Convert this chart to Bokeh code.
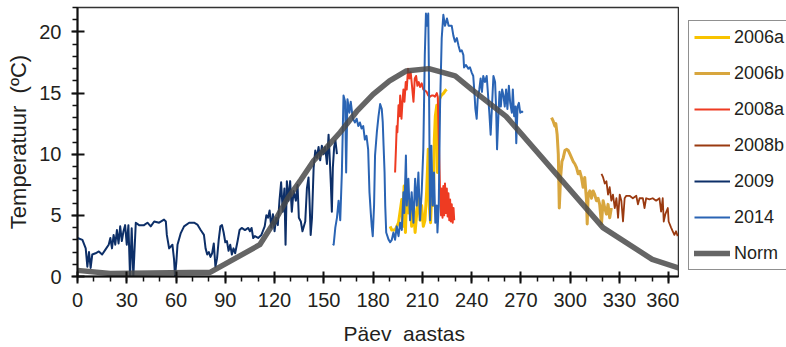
from bokeh.plotting import figure
from bokeh.models import SingleIntervalTicker, Range1d
from bokeh.layouts import row
from bokeh.embed import file_html
from bokeh.resources import INLINE

FONT = "Liberation Sans"

# ---- data (day of year, temperature in degrees C) ----
D2006A = [190.4, 191.4, 193.4, 195.5, 197.5, 198.1, 198.9, 199.7, 200.5, 201.5,
          202.5, 203.5, 204.6, 205.6, 206.6, 207.6, 208.6, 209.6, 210.6, 211.6,
          212.6, 213.6, 214.2, 215, 215.8, 216.7, 217.3, 217.9, 218.8, 219.2,
          219.6, 220.4, 221.5, 223, 224, 224.8]
T2006A = [4.1, 3.8, 3.8, 4.4, 6.3, 4.1, 7.4, 3.6, 6.9, 5.2,
          6.3, 4.1, 5.8, 3.6, 5.2, 6.9, 4.6, 5.8, 4.1, 4.6,
          6.9, 10.4, 5.8, 4.4, 6.9, 5.8, 11.2, 13.1, 14.0, 8.5,
          11.2, 14.5, 14.8, 15.0, 15.2, 15.3]

D2006B = [288.7, 289.7, 290.7, 291.3, 292.1, 292.8, 293.4, 294.2, 295, 295.8,
          296.8, 297.8, 298.9, 299.9, 300.9, 301.9, 302.9, 303.9, 304.9, 305.9,
          306.9, 307.9, 308.9, 310, 310.4, 311, 312, 313, 314, 315,
          316, 317, 318, 319.1, 320.1, 321.1, 322.1, 323.1, 324.1, 325.1]
T2006B = [13.0, 12.7, 12.3, 12.5, 11.6, 10.0, 5.6, 8.1, 9.4, 9.7,
          10.3, 10.4, 10.3, 10.0, 9.7, 9.4, 9.2, 8.9, 8.4, 8.6,
          8.1, 7.3, 8.1, 6.2, 4.3, 6.7, 7.0, 6.4, 7.0, 6.7,
          6.2, 6.4, 5.9, 4.3, 6.2, 5.6, 5.1, 5.9, 4.8, 5.6]

D2008A = [193.4, 194, 194.4, 194.8, 195.5, 196.1, 196.5, 197.3, 197.9, 198.5,
          199.1, 199.9, 200.5, 201.3, 202.1, 202.9, 203.7, 204.6, 205.4, 206.2,
          207, 207.8, 208.6, 209.6, 210.6, 211.6, 212.6, 213.6, 214.7, 215.7,
          216.7, 217.7, 218.8, 219.4,
          220.8, 221.4, 221.8, 222.3, 222.8, 223.3, 223.8, 224.3, 224.9, 225.4,
          225.9, 226.4, 226.9, 227.4, 227.9, 228.5, 229, 229.4]
T2008A = [8.5, 10.7, 12.3, 11.8, 14.0, 13.1, 14.8, 12.9, 14.3, 15.3,
          14.3, 15.9, 15.3, 17.0, 16.2, 16.7, 15.6, 14.3, 16.2, 16.4,
          15.6, 15.9, 15.5, 15.8, 15.3, 15.2, 15.1, 14.8, 14.7, 14.8,
          14.8, 14.7, 15.0, 14.7,
          6.9, 5.0, 7.2, 4.8, 7.4, 5.0, 7.6, 5.2, 7.2, 4.9,
          6.8, 4.6, 6.3, 4.5, 5.9, 4.4, 5.6, 4.6]

D2008B = [319.1, 320.1, 321.1, 322.1, 323.1, 324.1, 325.1, 326.1, 327.2, 328.2,
          329.2, 330.2, 331.2, 332.2, 333.2, 334.2, 336.2, 338.2, 340.3, 341.3,
          342.3, 344.3, 345.3, 346.3, 348.3, 350.3, 352.4, 354.4, 355.4, 356.4,
          357, 358, 359.5, 360, 361.5, 362.5, 363.5, 364.5, 365.5]
T2008B = [8.4, 8.1, 7.6, 7.8, 6.7, 7.3, 6.2, 6.7, 5.6, 6.4,
          4.8, 6.7, 6.2, 4.5, 6.4, 6.6, 6.6, 6.4, 6.6, 5.9,
          6.4, 6.4, 5.6, 6.4, 6.3, 6.4, 6.2, 6.4, 5.3, 6.4,
          4.5, 5.1, 5.6, 4.5, 4.0, 3.7, 3.4, 3.7, 3.3]

D2009 = [0, 3, 5, 6, 7, 8, 9, 11, 13, 15,
         17, 19, 20, 21, 22, 23, 24, 25, 26, 27,
         28, 29, 30, 31, 32, 33, 34, 35.5, 37.5, 40.5,
         42.6, 44.6, 46.7, 49.7, 52.7, 53.8, 54.4, 55.8, 57.8, 58.8,
         59.4, 60.2, 60.9, 62.9, 64.9, 68, 71, 73, 75, 77,
         78, 79, 80, 81, 82, 83, 84, 85, 86, 87,
         88, 89, 90, 91, 92, 93, 94, 95, 96, 97.5,
         98.7, 100, 102, 104, 105, 106, 107, 108, 110, 112,
         114, 115, 116, 117, 118, 119, 120, 121, 122, 123,
         124, 125, 126, 126.7, 127.5, 128.5, 129.5, 130.5, 131.6, 133,
         134, 134.8, 136, 137, 138.7, 139.7, 140.7, 141.3, 142, 142.8,
         143.8, 144.8, 145.8, 146.8, 147.8, 148.8, 149.8, 150.8, 151.9, 152.9,
         153.5, 154.3, 154.9, 155.5, 156.3, 157.1, 158]
T2009 = [3.15, 3.0, 2.3, 0.8, 2.0, 0.7, 1.8, 1.9, 2.05, 1.8,
         2.2, 2.6, 3.15, 2.3, 3.4, 2.6, 3.8, 2.7, 4.1, 2.9,
         3.7, 4.2, 2.6, 4.2, 0.0, 3.95, 0.0, 4.4, 4.2, 4.2,
         4.4, 4.1, 4.5, 4.4, 4.65, 4.5, 3.4, 2.3, 2.6, 1.4,
         0.0, 1.2, 2.6, 3.55, 4.1, 4.4, 4.4, 4.25, 3.8, 3.4,
         2.3, 1.8, 2.0, 1.6, 1.9, 2.7, 0.8, 1.5, 3.0, 4.1,
         4.2, 3.6, 2.8, 2.9, 2.1, 2.6, 1.8, 2.3, 1.9, 2.9,
         3.8, 3.97, 3.8, 3.97, 3.7, 3.97, 3.15, 3.3, 3.15, 3.4,
         4.1, 5.0, 4.8, 5.4, 4.0, 5.1, 3.7, 4.8, 4.2, 6.2,
         7.7, 5.3, 7.2, 2.6, 7.8, 6.2, 7.8, 5.3, 7.0, 6.2,
         7.5, 4.8, 4.5, 3.7, 4.5, 7.2, 8.1, 6.2, 3.4, 4.8,
         8.9, 10.3, 9.7, 10.6, 9.5, 10.7, 10.0, 10.6, 9.2, 11.6,
         10.0, 7.5, 5.3, 8.9, 10.6, 11.1, 10.0]

D2014 = [155.5, 156, 157, 158, 159, 160, 161, 162, 163, 163.6,
         164.4, 165.6, 166.4, 167.7, 169, 170, 171, 172, 173, 174,
         175, 176, 177, 177.8, 178.6, 179.2, 179.8, 180.6, 181.2, 182.3,
         183.3, 184.3, 185.3, 185.9, 186.4, 187, 187.4, 188, 189.5, 190.4,
         191.4, 192.4, 193.4, 194.4, 195.5, 196.5, 197.5, 198.5, 199, 200,
         200.5, 201.5, 202.5, 203.5, 204.6, 205.6, 206.6, 207.6, 208.6, 209.6,
         210.6, 211.5, 212.2, 213, 213.6, 214, 214.7, 215.5, 216.3, 217.1,
         217.9, 218.8, 219.2, 220, 220.8, 221.8, 222.8, 223.8, 225, 226,
         227.9, 228.9, 229.9, 231, 232, 233, 234, 235, 235.4, 236.6,
         238, 239, 240, 241, 241.7, 242.3, 243.1, 243.7, 244.7, 245.5,
         246.3, 247.1, 248.1, 249.2, 250.2, 250.8, 251.6, 252.4, 253.3, 254.3,
         254.9, 255.5, 256.3, 257, 257.8, 258.6, 259.4, 260.2, 261, 261.8,
         262.7, 263.5, 264.5, 265.1, 265.9, 266.7, 267.2, 268, 268.8, 269.6,
         270.6, 271.2]
T2014 = [2.7, 2.6, 4.0, 4.8, 6.2, 4.6, 8.5, 14.8, 14.3, 8.5,
         14.5, 13.4, 14.3, 12.9, 12.6, 12.9, 12.3, 12.6, 12.1, 12.3,
         11.2, 11.5, 10.4, 6.9, 5.2, 4.1, 3.3, 5.8, 9.9, 11.8,
         13.1, 14.1, 13.7, 12.6, 10.7, 8.5, 5.8, 3.6, 3.0, 2.8,
         3.0, 3.6, 3.0, 4.1, 3.3, 4.4, 3.8, 6.9, 5.2, 9.9,
         5.8, 8.0, 4.6, 6.9, 4.4, 8.0, 5.8, 8.5, 4.6, 6.9,
         10.4, 18.1, 21.5, 20.5, 21.5, 16.7, 4.6, 10.7, 5.8, 8.5,
         4.4, 5.8, 3.6, 5.8, 14.0, 19.5, 21.4, 20.5, 21.1, 20.5,
         20.5, 19.7, 19.2, 19.5, 18.9, 18.4, 18.5, 18.1, 17.1, 17.3,
         17.0, 17.1, 16.7, 16.4, 15.1, 13.7, 12.9, 14.5, 15.3, 16.2,
         15.1, 16.4, 15.9, 16.4, 14.5, 13.4, 11.6, 13.9, 16.4, 15.9,
         13.9, 10.4, 13.1, 15.1, 13.9, 15.3, 14.8, 13.9, 15.3, 13.7,
         15.6, 14.2, 13.4, 15.3, 13.1, 13.9, 10.9, 13.9, 14.2, 13.4,
         13.5, 13.4]

DNORM = [0, 20, 81, 111, 120, 128, 136, 144, 152, 160,
         170, 180, 190, 200, 214, 230, 240, 261, 320, 350, 366]
TNORM = [0.5, 0.25, 0.35, 2.6, 4.5, 6.4, 7.9, 9.5, 10.6, 11.8,
         13.5, 14.9, 16.0, 16.8, 17.0, 16.4, 15.3, 13.1, 4.0, 1.4, 0.7]

X_TICK_STEP = 30
Y_TICK_STEP = 5

SERIES = [
    ("2006a", D2006A, T2006A, "#F8C300", 3.0),
    ("2006b", D2006B, T2006B, "#D8A63E", 3.0),
    ("2008a", D2008A, T2008A, "#EE3B22", 2.0),
    ("2008b", D2008B, T2008B, "#9A3A10", 1.8),
    ("2009", D2009, T2009, "#0D2F68", 2.0),
    ("2014", D2014, T2014, "#2A64B4", 2.0),
]
NORM_STYLE = dict(line_color="#4a4a4a", line_alpha=0.85, line_width=5.5,
                  line_join="round", line_cap="round")

# ---------------- main chart ----------------
p = figure(width=679, height=347, output_backend="svg", toolbar_location=None,
           x_range=Range1d(0, 366), y_range=Range1d(0, 22),
           min_border_left=77, min_border_right=1, min_border_top=7,
           min_border_bottom=0, background_fill_color="white",
           border_fill_color="white")

for name, xs, ys, col, w in SERIES:
    p.line(xs, ys, line_color=col, line_width=w, line_join="round")
p.line(DNORM, TNORM, **NORM_STYLE)

p.grid.visible = False
p.outline_line_color = "#333333"
p.outline_line_width = 1.5

for ax in (p.xaxis[0], p.yaxis[0]):
    ax.axis_line_color = "#111111"
    ax.axis_line_width = 2
    ax.major_tick_line_color = "#111111"
    ax.major_tick_line_width = 2
    ax.minor_tick_line_color = "#111111"
    ax.minor_tick_line_width = 1.5
    ax.minor_tick_in = 0
    ax.minor_tick_out = 5
    ax.major_label_text_font = FONT
    ax.major_label_text_font_size = "20px"
    ax.major_label_text_color = "#231f20"
    ax.axis_label_text_font = FONT
    ax.axis_label_text_font_style = "normal"
    ax.axis_label_text_color = "#231f20"

p.xaxis.ticker = SingleIntervalTicker(interval=X_TICK_STEP, num_minor_ticks=3)
p.yaxis.ticker = SingleIntervalTicker(interval=Y_TICK_STEP, num_minor_ticks=5)
p.xaxis.major_tick_in = 5
p.xaxis.major_tick_out = 7
p.xaxis.major_label_standoff = 9
p.xaxis.axis_label = "\u00a0" * 9 + "Päev\u00a0 aastas"
p.xaxis.axis_label_text_font_size = "21px"
p.xaxis.axis_label_standoff = 12
p.yaxis.major_tick_in = 7
p.yaxis.major_tick_out = 6
p.yaxis.major_label_standoff = 10
p.yaxis.axis_label = "Temperatuur\u00a0 (ºC)"
p.yaxis.axis_label_text_font_size = "22px"
p.yaxis.axis_label_standoff = 5

# ---------------- legend panel (same series, drawn out of view) ----------------
lf = figure(width=107, height=347, output_backend="svg", toolbar_location=None,
            x_axis_type=None, y_axis_type=None,
            x_range=Range1d(1000, 1001), y_range=Range1d(1000, 1001),
            min_border_left=0, min_border_right=0, min_border_top=0,
            min_border_bottom=0, outline_line_color=None,
            background_fill_color="white", border_fill_color="white")
lf.grid.visible = False
for name, xs, ys, col, w in SERIES:
    lf.line(xs, ys, line_color=col, line_width=w, legend_label=name)
lf.line(DNORM, TNORM, legend_label="Norm", **NORM_STYLE)

lg = lf.legend[0]
lg.location = (9, 6)
lg.margin = 0
lg.padding = 5
lg.spacing = 14
lg.glyph_width = 36
lg.glyph_height = 22
lg.label_height = 22
lg.label_standoff = 4
lg.label_text_font = FONT
lg.label_text_font_size = "18px"
lg.label_text_color = "#231f20"
lg.border_line_color = "#222222"
lg.border_line_width = 1.5
lg.background_fill_alpha = 1.0

layout = row(p, lf, spacing=0)
open("out.html", "w").write(file_html(layout, INLINE))
